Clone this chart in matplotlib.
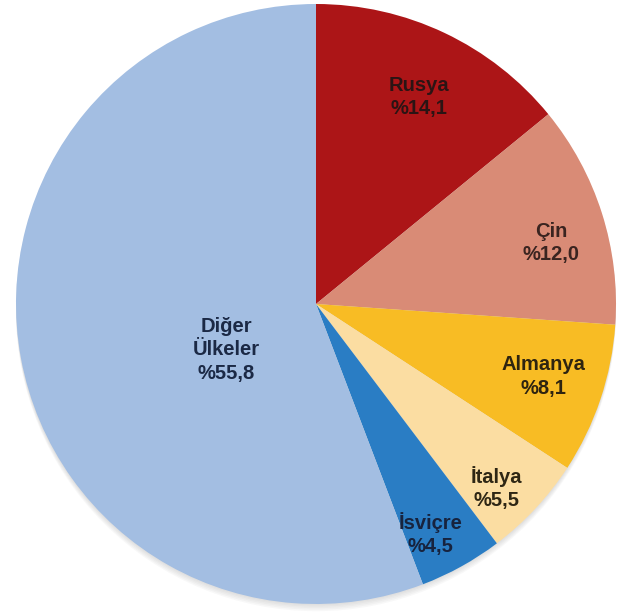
import matplotlib
matplotlib.use("Agg")
import matplotlib.pyplot as plt
from matplotlib.patches import Circle
import numpy as np

plt.rcParams["font.family"] = ["Liberation Sans", "DejaVu Sans"]

countries = ["Rusya", "Çin", "Almanya", "İtalya", "İsviçre", "Diğer\nÜlkeler"]
shares = [14.1, 12.0, 8.1, 5.5, 4.5, 55.8]
share_labels = ["%14,1", "%12,0", "%8,1", "%5,5", "%4,5", "%55,8"]

colors = ["#AC1517", "#D98B76", "#F8BC24", "#FBDDA2", "#2A7DC4", "#A3BEE2"]
text_colors = ["#2b1414", "#3a2420", "#2e2410", "#2e2614", "#17233e", "#1b2945"]
# label placement: distance from centre and angular nudge (degrees)
label_radius = [0.77, 0.81, 0.795, 0.86, 0.857, 0.337]
label_nudge = [-1.0, -3.1, 0.9, -2.5, -2.5, 16.6]

fig = plt.figure(figsize=(6.31, 6.15), dpi=100)
# 300 px per unit radius; extra room below for the shadow
ax = fig.add_axes([16 / 631, 2 / 615, 600 / 631, 609 / 615])

# soft shadow under the bottom of the pie
for k in range(5):
    ax.add_patch(Circle((0.0, -0.004 - 0.005 * k), 1.0,
                        facecolor="#909090", alpha=0.06, linewidth=0, zorder=0))

wedges, _ = ax.pie(
    shares,
    colors=colors,
    startangle=90,
    counterclock=False,
    radius=1.0,
    wedgeprops=dict(linewidth=0, zorder=1),
)

for w, name, pct, tc, rad, nudge in zip(wedges, countries, share_labels,
                                        text_colors, label_radius, label_nudge):
    mid = np.deg2rad((w.theta1 + w.theta2) / 2.0 + nudge)
    ax.text(
        rad * np.cos(mid),
        rad * np.sin(mid),
        f"{name}\n{pct}",
        ha="center",
        va="center",
        fontsize=14.5,
        fontweight="bold",
        color=tc,
        linespacing=1.3,
        zorder=3,
    )

ax.set_xlim(-1, 1)
ax.set_ylim(-1.03, 1)
ax.set_aspect("equal")
ax.axis("off")

fig.savefig("out.png", dpi=100)
